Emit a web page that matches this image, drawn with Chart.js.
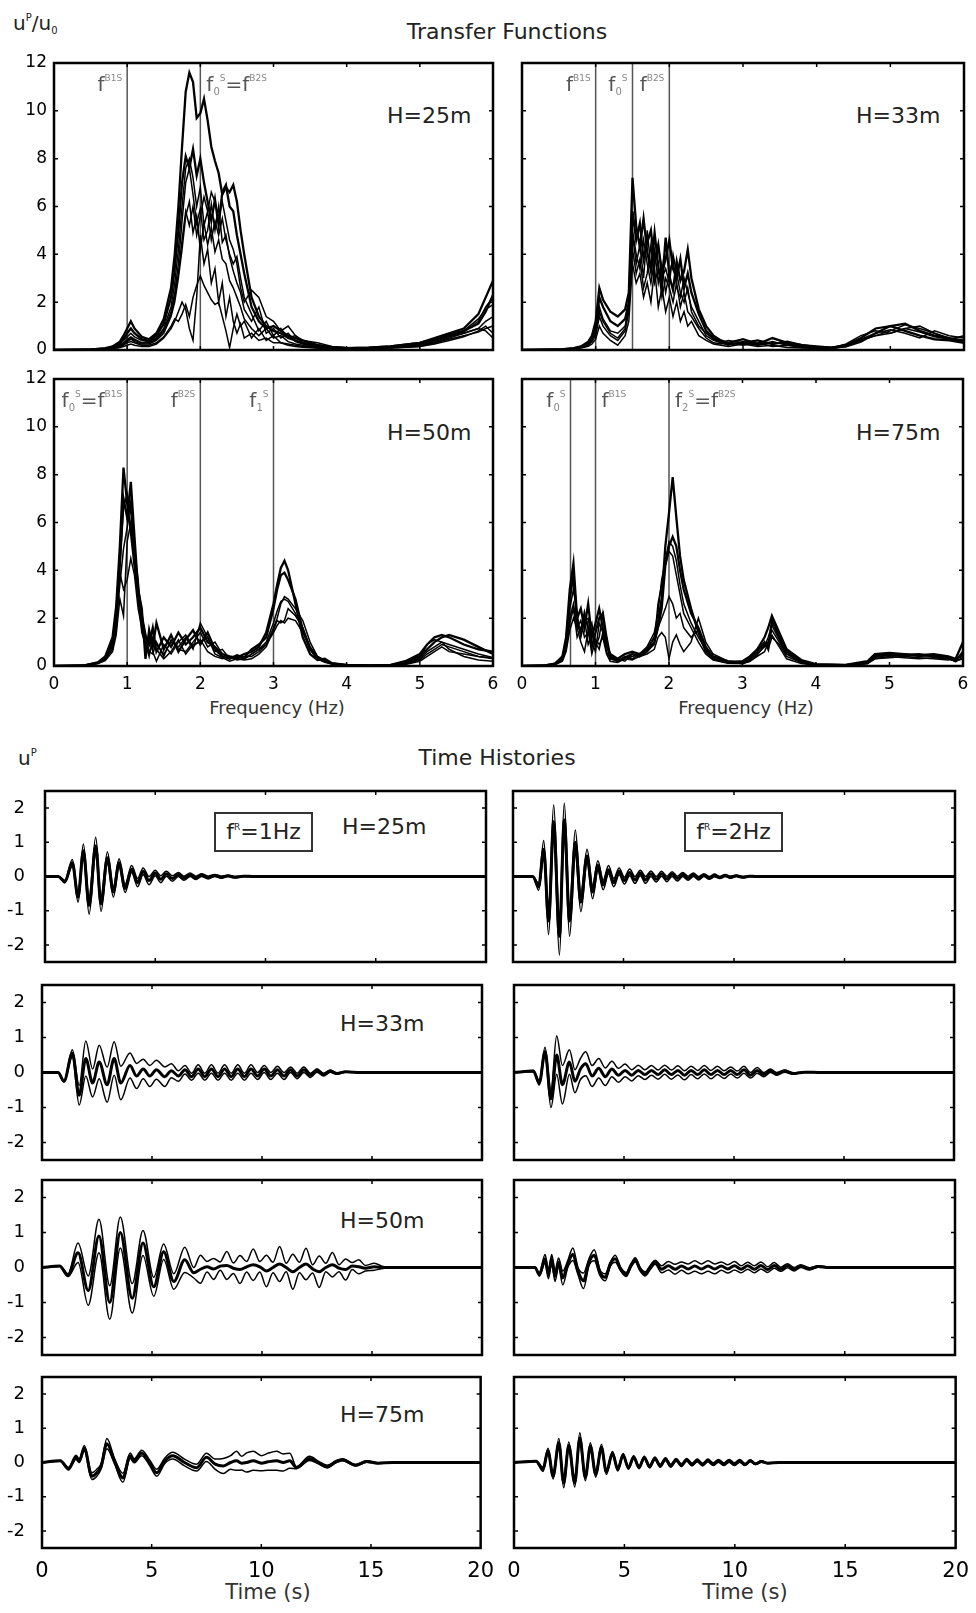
<!DOCTYPE html>
<html lang="en">
<head>
<meta charset="UTF-8">
<title>Transfer Functions and Time Histories</title>
<style>
  body { margin: 0; background: #fff; }
  #page { position: relative; width: 976px; height: 1613px; overflow: hidden; background: #fff; }
  #page canvas { position: absolute; }
  .t { position: absolute; font-family: 'DejaVu Sans', sans-serif; line-height: 1; white-space: nowrap; color: #222; }
  .t sup, .t sub { line-height: 0; }
  .u sup { font-size: 10px; vertical-align: 9px; }
  .u sub { font-size: 10px; vertical-align: -4px; }
  .fl { font-size: 20px; color: #555; }
  .fl sup { font-size: 9px; vertical-align: 10px; color: #888; }
  .fl sub { font-size: 10px; vertical-align: -4px; color: #888; }
  .hl { font-size: 22px; }
  .ax { color: #333; transform: translateX(-50%); }
  .fr { width: 99px; height: 40px; box-sizing: border-box; border: 2px solid #333; font-size: 22px; line-height: 36px; text-align: center; }
  .fr sup { font-size: 9px; vertical-align: 9px; }
</style>
</head>
<body>
<div id="page">
  <div class="t u" style="left:13px;top:13px;font-size:20px">u<sup>P</sup>/u<sub>0</sub></div>
  <div class="t" style="left:507px;top:21px;font-size:22px;transform:translateX(-50%)">Transfer Functions</div>
  <div class="t hl" style="left:387px;top:105px">H=25m</div>
  <div class="t hl" style="left:856px;top:105px">H=33m</div>
  <div class="t hl" style="left:387px;top:422px">H=50m</div>
  <div class="t hl" style="left:856px;top:422px">H=75m</div>
  <div class="t ax" style="left:277px;top:699px;font-size:18px">Frequency (Hz)</div>
  <div class="t ax" style="left:746px;top:699px;font-size:18px">Frequency (Hz)</div>

  <div class="t u" style="left:18px;top:748px;font-size:20px">u<sup>P</sup></div>
  <div class="t" style="left:497px;top:747px;font-size:22px;transform:translateX(-50%)">Time Histories</div>
  <div class="t fr" style="left:214px;top:812px">f<sup>R</sup>=1Hz</div>
  <div class="t fr" style="left:684px;top:812px">f<sup>R</sup>=2Hz</div>
  <div class="t hl" style="left:342px;top:816px">H=25m</div>
  <div class="t hl" style="left:340px;top:1013px">H=33m</div>
  <div class="t hl" style="left:340px;top:1210px">H=50m</div>
  <div class="t hl" style="left:340px;top:1404px">H=75m</div>
  <div class="t ax" style="left:268px;top:1582px;font-size:21px">Time (s)</div>
  <div class="t ax" style="left:745px;top:1582px;font-size:21px">Time (s)</div>
</div>

<script src="https://cdn.jsdelivr.net/npm/chart.js"></script>
<script>
// ---- transfer functions, H=25m ----
const f25 = [0, 0.5, 0.7, 0.8, 0.9, 0.95, 1.0, 1.05, 1.1, 1.2, 1.3, 1.4, 1.5, 1.6, 1.65, 1.7, 1.75, 1.8, 1.85, 1.9, 1.95, 2.0, 2.05, 2.1, 2.15, 2.2, 2.25, 2.3, 2.35, 2.4, 2.45, 2.5, 2.55, 2.6, 2.7, 2.8, 2.9, 3.0, 3.1, 3.2, 3.3, 3.4, 3.6, 3.8, 4.0, 4.3, 4.6, 5.0, 5.2, 5.4, 5.6, 5.8, 5.9, 6.0];
const tf25 = [
  [0, 0.02, 0.08, 0.15, 0.35, 0.6, 0.9, 1.2, 0.9, 0.55, 0.45, 0.7, 1.3, 2.6, 4.0, 6.0, 8.5, 10.8, 11.6, 11.2, 9.7, 9.9, 10.5, 9.6, 8.5, 7.9, 7.4, 6.5, 6.8, 6.6, 6.9, 6.2, 5.0, 4.0, 2.2, 1.4, 1.0, 0.8, 0.7, 0.5, 0.4, 0.3, 0.2, 0.1, 0.08, 0.1, 0.15, 0.3, 0.5, 0.7, 0.9, 1.5, 2.2, 2.9],
  [0, 0.02, 0.06, 0.12, 0.3, 0.45, 0.7, 0.9, 0.7, 0.45, 0.4, 0.6, 1.1, 2.2, 3.4, 5.0, 7.0, 8.1, 7.6, 8.4, 7.3, 8.0, 7.0, 6.2, 5.4, 6.3, 5.2, 6.6, 6.9, 6.0, 5.8, 4.8, 4.0, 3.2, 1.8, 1.2, 0.9, 1.0, 0.8, 0.6, 0.5, 0.4, 0.2, 0.12, 0.08, 0.1, 0.15, 0.3, 0.45, 0.65, 0.8, 1.1, 1.6, 2.3],
  [0, 0.02, 0.05, 0.1, 0.25, 0.4, 0.55, 0.7, 0.55, 0.4, 0.35, 0.5, 0.9, 1.8, 2.8, 4.2, 6.0, 7.6, 8.0, 7.2, 6.0, 6.8, 5.2, 5.8, 4.6, 5.4, 4.8, 5.5, 4.6, 4.0, 3.6, 3.9, 3.0, 2.2, 1.5, 0.8, 1.2, 0.6, 0.9, 0.5, 0.6, 0.3, 0.15, 0.1, 0.06, 0.08, 0.12, 0.25, 0.4, 0.6, 0.75, 1.2, 1.8, 2.2],
  [0, 0.01, 0.05, 0.08, 0.2, 0.3, 0.45, 0.55, 0.45, 0.3, 0.3, 0.45, 0.8, 1.6, 2.4, 3.6, 5.4, 7.0, 7.6, 6.5, 5.3, 5.9, 4.6, 5.0, 6.1, 5.0, 6.0, 4.5, 4.8, 3.9, 3.3, 2.8, 2.4, 1.7, 1.2, 1.8, 0.7, 0.9, 0.5, 0.7, 0.35, 0.25, 0.12, 0.08, 0.05, 0.07, 0.1, 0.2, 0.35, 0.55, 0.7, 0.9, 1.2, 1.4],
  [0, 0.01, 0.04, 0.07, 0.15, 0.25, 0.35, 0.45, 0.35, 0.25, 0.25, 0.4, 0.7, 1.4, 2.0, 3.0, 4.2, 5.6, 6.2, 4.9, 5.6, 4.2, 5.3, 4.4, 5.1, 4.1, 4.6, 3.8, 3.6, 2.9, 2.6, 2.2, 1.8, 1.3, 0.9, 0.6, 0.9, 0.5, 0.6, 0.35, 0.25, 0.2, 0.1, 0.06, 0.05, 0.06, 0.1, 0.2, 0.3, 0.45, 0.6, 0.75, 0.9, 1.0],
  [0, 0.01, 0.03, 0.05, 0.1, 0.15, 0.2, 0.25, 0.2, 0.15, 0.15, 0.25, 0.5, 0.9, 1.2, 1.6, 2.0, 1.7, 0.9, 0.4, 2.2, 4.8, 3.6, 4.2, 2.8, 3.4, 2.0, 2.8, 1.4, 2.2, 1.2, 0.7, 1.1, 0.5, 0.7, 0.4, 0.5, 0.3, 0.3, 0.2, 0.15, 0.12, 0.08, 0.05, 0.04, 0.05, 0.08, 0.15, 0.25, 0.4, 0.55, 0.8, 1.0, 0.7],
  [0, 0.01, 0.03, 0.06, 0.12, 0.2, 0.3, 0.35, 0.3, 0.2, 0.2, 0.3, 0.55, 1.0, 1.3, 1.2, 1.5, 1.9, 1.4, 2.2, 2.7, 3.1, 2.7, 2.4, 2.1, 1.9, 2.0, 1.4, 0.8, 0.1, 0.9, 1.5, 1.0, 1.2, 0.5, 0.9, 0.4, 0.6, 0.3, 0.25, 0.2, 0.15, 0.08, 0.05, 0.04, 0.05, 0.08, 0.15, 0.3, 0.5, 0.7, 0.9, 0.8, 0.5],
  [0, 0.01, 0.04, 0.07, 0.18, 0.28, 0.4, 0.5, 0.4, 0.3, 0.3, 0.45, 0.8, 1.5, 2.2, 3.2, 4.6, 5.8, 5.2, 6.0, 4.8, 5.6, 6.4, 5.8, 6.6, 6.2, 5.5, 6.2, 5.4, 4.6, 4.2, 3.6, 2.6, 2.0, 2.5, 2.2, 1.4, 1.2, 0.8, 1.0, 0.6, 0.4, 0.3, 0.15, 0.1, 0.08, 0.12, 0.25, 0.4, 0.6, 0.8, 1.3, 1.7, 1.9]
];
const marks25 = [
  { at: 1, side: 'l', html: 'f<sup>B1S</sup>' },
  { at: 2, side: 'r', html: 'f<sub>0</sub><sup>S</sup>=f<sup>B2S</sup>' }
];

// ---- transfer functions, H=33m ----
const f33 = [0, 0.5, 0.7, 0.8, 0.9, 0.95, 1.0, 1.05, 1.1, 1.2, 1.3, 1.4, 1.45, 1.5, 1.55, 1.6, 1.65, 1.7, 1.75, 1.8, 1.85, 1.9, 1.95, 2.0, 2.05, 2.1, 2.15, 2.2, 2.25, 2.3, 2.4, 2.5, 2.6, 2.7, 2.8, 3.0, 3.2, 3.4, 3.6, 3.8, 4.0, 4.2, 4.4, 4.6, 4.8, 5.0, 5.2, 5.4, 5.6, 5.8, 6.0];
const tf33 = [
  [0, 0.02, 0.08, 0.15, 0.35, 0.6, 1.2, 2.6, 2.1, 1.6, 1.4, 1.7, 2.4, 7.2, 5.2, 4.3, 5.5, 4.1, 3.3, 4.9, 3.5, 2.7, 4.7, 3.1, 2.5, 3.7, 2.9, 3.3, 4.2, 3.0, 1.7, 1.0, 0.6, 0.4, 0.3, 0.45, 0.25, 0.5, 0.3, 0.2, 0.15, 0.1, 0.15, 0.35, 0.7, 1.0, 1.1, 0.8, 0.6, 0.5, 0.4],
  [0, 0.02, 0.07, 0.13, 0.3, 0.5, 1.0, 2.2, 1.8, 1.2, 1.0, 1.3, 2.0, 5.8, 4.6, 5.3, 3.8, 4.5, 5.0, 3.6, 4.4, 3.2, 3.8, 4.6, 3.4, 3.0, 3.8, 2.6, 3.2, 2.4, 1.5, 0.8, 0.5, 0.35, 0.25, 0.3, 0.4, 0.25, 0.35, 0.2, 0.12, 0.1, 0.2, 0.5, 0.9, 1.0, 0.8, 0.6, 0.45, 0.4, 0.3],
  [0, 0.01, 0.06, 0.12, 0.25, 0.45, 0.8, 1.8, 1.3, 0.8, 0.7, 1.0, 1.8, 4.8, 3.6, 4.4, 3.0, 5.0, 3.4, 4.2, 2.8, 3.6, 2.4, 3.2, 3.8, 2.6, 2.2, 3.0, 2.4, 1.8, 1.2, 0.6, 0.4, 0.3, 0.2, 0.35, 0.2, 0.3, 0.25, 0.15, 0.1, 0.08, 0.25, 0.6, 0.8, 0.7, 0.9, 1.0, 0.7, 0.5, 0.3],
  [0, 0.01, 0.05, 0.1, 0.2, 0.35, 0.6, 1.4, 1.0, 0.6, 0.4, 0.8, 1.6, 4.2, 3.2, 3.8, 2.6, 3.2, 4.4, 2.8, 3.4, 2.2, 3.0, 2.6, 2.0, 2.8, 1.8, 2.4, 1.6, 1.4, 0.9, 0.5, 0.3, 0.25, 0.3, 0.2, 0.3, 0.15, 0.2, 0.1, 0.08, 0.06, 0.2, 0.45, 0.7, 0.85, 0.7, 0.5, 0.8, 0.6, 0.5],
  [0, 0.01, 0.04, 0.08, 0.15, 0.25, 0.45, 1.0, 0.7, 0.4, 0.2, 0.6, 1.2, 3.6, 2.8, 3.2, 2.2, 2.8, 2.0, 3.4, 1.8, 2.6, 1.6, 2.2, 1.4, 2.0, 1.2, 1.6, 1.0, 1.2, 0.6, 0.4, 0.25, 0.2, 0.15, 0.25, 0.15, 0.2, 0.1, 0.08, 0.06, 0.05, 0.15, 0.4, 0.6, 0.7, 0.9, 0.75, 0.55, 0.45, 0.6],
  [0, 0.01, 0.05, 0.1, 0.22, 0.4, 0.7, 1.6, 1.2, 0.7, 0.5, 0.9, 1.9, 5.0, 4.0, 3.4, 4.6, 3.6, 2.8, 3.8, 4.4, 3.0, 3.4, 2.8, 4.0, 3.2, 2.4, 2.0, 2.6, 1.6, 1.0, 0.7, 0.45, 0.3, 0.4, 0.3, 0.2, 0.35, 0.2, 0.15, 0.12, 0.1, 0.18, 0.4, 0.6, 0.8, 1.05, 0.9, 0.7, 0.45, 0.35]
];
const marks33 = [
  { at: 1, side: 'l', html: 'f<sup>B1S</sup>' },
  { at: 1.5, side: 'l', html: 'f<sub>0</sub><sup>S</sup>' },
  { at: 2, side: 'l', html: 'f<sup>B2S</sup>' }
];

// ---- transfer functions, H=50m ----
const f50 = [0, 0.4, 0.6, 0.7, 0.8, 0.85, 0.9, 0.95, 1.0, 1.05, 1.1, 1.15, 1.2, 1.25, 1.3, 1.35, 1.4, 1.5, 1.6, 1.7, 1.8, 1.9, 2.0, 2.1, 2.2, 2.3, 2.4, 2.5, 2.6, 2.7, 2.8, 2.9, 3.0, 3.05, 3.1, 3.15, 3.2, 3.3, 3.4, 3.5, 3.6, 3.7, 3.8, 4.0, 4.3, 4.6, 4.8, 5.0, 5.1, 5.2, 5.3, 5.4, 5.6, 5.8, 6.0];
const tf50 = [
  [0, 0.02, 0.15, 0.4, 1.2, 2.5, 5.0, 8.3, 6.8, 5.6, 4.2, 3.0, 2.0, 1.2, 0.9, 1.6, 0.6, 1.2, 0.8, 1.4, 0.9, 1.2, 1.6, 1.0, 0.8, 0.5, 0.4, 0.35, 0.5, 0.6, 0.8, 1.4, 2.6, 3.4, 4.1, 4.4, 4.0, 2.6, 1.2, 0.5, 0.25, 0.3, 0.12, 0.05, 0.02, 0.05, 0.2, 0.5, 0.9, 1.2, 1.3, 1.2, 0.9, 0.7, 0.6],
  [0, 0.02, 0.14, 0.35, 1.0, 2.2, 4.4, 7.0, 6.2, 7.7, 5.4, 3.2, 2.4, 0.3, 1.5, 0.8, 1.8, 0.7, 1.3, 0.6, 1.1, 1.5, 0.9, 1.4, 0.7, 0.4, 0.3, 0.45, 0.35, 0.7, 0.9, 1.2, 2.4, 3.2, 3.8, 3.9, 3.6, 2.8, 1.5, 0.7, 0.3, 0.2, 0.1, 0.04, 0.02, 0.04, 0.15, 0.4, 0.7, 1.0, 1.2, 1.3, 1.1, 0.8, 0.5],
  [0, 0.02, 0.13, 0.33, 0.9, 2.0, 4.0, 6.6, 7.2, 6.4, 4.8, 3.6, 1.8, 1.0, 0.4, 1.2, 0.9, 0.5, 1.0, 0.8, 1.2, 0.7, 1.8, 1.2, 0.6, 0.7, 0.3, 0.4, 0.3, 0.5, 0.7, 1.0, 1.8, 2.3, 2.7, 2.8, 2.7, 2.2, 1.6, 0.8, 0.4, 0.25, 0.12, 0.04, 0.02, 0.03, 0.1, 0.3, 0.6, 0.8, 1.0, 0.9, 0.7, 0.5, 0.35],
  [0, 0.01, 0.12, 0.3, 0.8, 1.8, 3.4, 4.9, 5.8, 6.9, 5.0, 3.0, 2.2, 1.4, 0.6, 0.5, 1.0, 0.4, 1.1, 0.7, 0.6, 1.0, 1.4, 0.8, 1.0, 0.5, 0.35, 0.3, 0.4, 0.4, 0.6, 0.9, 1.6, 2.0, 2.6, 2.9, 2.8, 2.4, 1.9, 1.0, 0.4, 0.2, 0.1, 0.03, 0.01, 0.02, 0.08, 0.25, 0.5, 0.7, 0.9, 0.8, 0.6, 0.4, 0.3],
  [0, 0.01, 0.1, 0.25, 0.7, 1.5, 3.9, 3.2, 3.6, 4.5, 3.8, 2.4, 1.6, 0.8, 1.2, 0.6, 0.2, 0.9, 0.5, 1.0, 1.3, 0.8, 1.1, 0.6, 0.4, 0.3, 0.4, 0.25, 0.3, 0.5, 0.7, 0.9, 1.4, 1.7, 1.9, 1.8, 2.0, 1.9, 1.4, 0.8, 0.35, 0.2, 0.08, 0.03, 0.01, 0.02, 0.1, 0.35, 0.9, 1.1, 1.0, 0.7, 0.4, 0.25, 0.2],
  [0, 0.01, 0.1, 0.22, 0.6, 1.3, 2.8, 2.1, 5.2, 6.0, 4.4, 2.8, 1.4, 0.9, 0.5, 1.0, 0.7, 0.3, 0.6, 1.1, 0.5, 0.9, 1.0, 1.2, 0.5, 0.35, 0.2, 0.3, 0.25, 0.3, 0.5, 0.8, 1.5, 1.9, 1.8, 1.9, 2.4, 2.1, 1.6, 0.7, 0.3, 0.15, 0.08, 0.02, 0.01, 0.02, 0.06, 0.2, 0.4, 0.6, 0.8, 0.6, 0.5, 0.4, 0.35]
];
const marks50 = [
  { at: 1, side: 'l', html: 'f<sub>0</sub><sup>S</sup>=f<sup>B1S</sup>' },
  { at: 2, side: 'l', html: 'f<sup>B2S</sup>' },
  { at: 3, side: 'l', html: 'f<sub>1</sub><sup>S</sup>' }
];

// ---- transfer functions, H=75m ----
const f75 = [0, 0.3, 0.45, 0.55, 0.6, 0.65, 0.7, 0.75, 0.8, 0.85, 0.9, 0.95, 1.0, 1.05, 1.1, 1.15, 1.2, 1.3, 1.4, 1.5, 1.6, 1.7, 1.8, 1.85, 1.9, 1.95, 2.0, 2.05, 2.1, 2.15, 2.2, 2.3, 2.4, 2.5, 2.6, 2.8, 3.0, 3.1, 3.2, 3.3, 3.35, 3.4, 3.5, 3.6, 3.8, 4.0, 4.4, 4.7, 4.8, 5.0, 5.2, 5.4, 5.6, 5.8, 5.9, 6.0];
const tf75 = [
  [0, 0.02, 0.1, 0.4, 1.2, 3.2, 4.3, 2.0, 2.4, 1.6, 2.6, 1.2, 1.8, 2.4, 1.6, 0.9, 0.5, 0.3, 0.5, 0.6, 0.5, 0.7, 1.2, 1.8, 2.8, 5.0, 6.4, 7.9, 6.2, 4.6, 3.6, 2.4, 1.4, 0.6, 0.3, 0.15, 0.2, 0.4, 0.7, 1.2, 1.6, 2.1, 1.4, 0.7, 0.25, 0.08, 0.05, 0.2, 0.5, 0.55, 0.5, 0.45, 0.5, 0.4, 0.3, 1.0],
  [0, 0.02, 0.1, 0.35, 1.0, 2.8, 3.8, 1.8, 1.4, 2.2, 1.6, 0.8, 1.4, 2.0, 2.2, 1.2, 0.4, 0.2, 0.35, 0.5, 0.4, 0.6, 1.0, 1.6, 2.4, 4.2, 5.0, 5.4, 5.0, 4.0, 3.2, 2.2, 1.6, 0.8, 0.4, 0.2, 0.15, 0.3, 0.6, 1.0, 0.7, 1.9, 1.2, 0.6, 0.2, 0.06, 0.04, 0.15, 0.45, 0.5, 0.45, 0.5, 0.4, 0.35, 0.2, 0.6],
  [0, 0.01, 0.08, 0.3, 0.9, 2.4, 3.2, 2.2, 1.2, 1.9, 2.0, 1.0, 0.6, 1.8, 1.4, 1.0, 0.3, 0.25, 0.3, 0.4, 0.5, 0.8, 1.4, 2.2, 3.6, 4.4, 5.2, 5.0, 4.4, 3.4, 2.6, 1.8, 1.2, 0.7, 0.3, 0.15, 0.1, 0.25, 0.5, 0.8, 1.2, 1.7, 1.1, 0.5, 0.2, 0.05, 0.04, 0.1, 0.35, 0.45, 0.4, 0.35, 0.3, 0.25, 0.3, 0.4],
  [0, 0.01, 0.08, 0.28, 0.8, 2.0, 2.6, 1.6, 1.9, 1.2, 1.4, 1.8, 0.8, 1.2, 2.2, 0.8, 0.4, 0.3, 0.2, 0.5, 0.45, 0.7, 1.0, 2.6, 3.4, 4.2, 4.8, 4.6, 3.8, 3.0, 2.2, 1.6, 1.0, 0.5, 0.25, 0.12, 0.1, 0.3, 0.7, 0.9, 1.0, 1.5, 1.0, 0.5, 0.15, 0.04, 0.03, 0.1, 0.3, 0.35, 0.4, 0.45, 0.4, 0.3, 0.2, 0.3],
  [0, 0.01, 0.06, 0.25, 0.7, 1.8, 2.4, 1.2, 1.6, 2.0, 0.9, 1.3, 1.0, 0.7, 1.4, 0.6, 0.3, 0.2, 0.4, 0.3, 0.5, 0.6, 0.9, 1.6, 2.0, 2.4, 2.9, 2.6, 2.0, 2.2, 1.6, 1.2, 1.5, 0.8, 0.4, 0.15, 0.12, 0.2, 0.45, 0.9, 0.7, 1.2, 0.9, 0.4, 0.15, 0.04, 0.03, 0.12, 0.4, 0.45, 0.5, 0.4, 0.45, 0.35, 0.25, 0.5],
  [0, 0.01, 0.05, 0.2, 0.6, 1.5, 2.0, 1.6, 1.0, 0.6, 1.5, 0.5, 1.1, 0.9, 1.2, 0.5, 0.2, 0.15, 0.3, 0.25, 0.4, 0.5, 0.7, 1.2, 1.4, 1.2, 0.3, 1.0, 1.3, 0.9, 0.6, 1.0, 2.0, 1.0, 0.5, 0.2, 0.1, 0.2, 0.4, 0.6, 1.0, 1.3, 0.8, 0.3, 0.1, 0.03, 0.02, 0.1, 0.3, 0.4, 0.35, 0.3, 0.35, 0.3, 0.2, 0.35]
];
const marks75 = [
  { at: 0.66, side: 'l', html: 'f<sub>0</sub><sup>S</sup>' },
  { at: 1, side: 'r', html: 'f<sup>B1S</sup>' },
  { at: 2, side: 'r', html: 'f<sub>2</sub><sup>S</sup>=f<sup>B2S</sup>' }
];

// ---- time histories: t = extrema times (s), m = mean, s = spread ----
const thTicks = [-2, -1, 0, 1, 2];

const t1_25 = [0, 0.6, 0.9, 1.24, 1.5, 1.74, 2.0, 2.3, 2.54, 2.83, 3.1, 3.36, 3.63, 3.93, 4.2, 4.45, 4.72, 5.0, 5.25, 5.5, 5.78, 6.05, 6.3, 6.58, 6.85, 7.1, 7.4, 7.7, 8.0, 8.3, 8.6, 9.0, 9.5, 10, 11, 12, 20];
const m1_25 = [0, 0, -0.15, 0.4, -0.6, 0.75, -0.85, 0.9, -0.8, 0.55, -0.45, 0.4, -0.35, 0.22, -0.18, 0.15, -0.12, 0.1, -0.08, 0.08, -0.06, 0.06, -0.05, 0.05, -0.04, 0.04, -0.03, 0.03, -0.02, 0.02, -0.02, 0.01, 0, 0, 0, 0, 0];
const s1_25 = [0, 0, 0.04, 0.1, 0.15, 0.2, 0.25, 0.25, 0.22, 0.17, 0.15, 0.12, 0.12, 0.1, 0.12, 0.1, 0.12, 0.08, 0.1, 0.07, 0.08, 0.06, 0.06, 0.05, 0.05, 0.04, 0.04, 0.03, 0.03, 0.02, 0.02, 0.01, 0.01, 0, 0, 0, 0];

const t2_25 = [0, 0.9, 1.16, 1.39, 1.61, 1.84, 2.1, 2.32, 2.56, 2.82, 3.07, 3.35, 3.6, 3.84, 4.08, 4.32, 4.56, 4.8, 5.04, 5.28, 5.52, 5.76, 6.0, 6.24, 6.48, 6.72, 6.96, 7.2, 7.44, 7.68, 7.92, 8.16, 8.4, 8.64, 8.88, 9.12, 9.36, 9.6, 9.84, 10.1, 10.4, 10.7, 11, 11.5, 12, 20];
const m2_25 = [0, 0, -0.3, 0.8, -1.3, 1.6, -1.75, 1.65, -1.3, 1.0, -0.75, 0.6, -0.45, 0.32, -0.25, 0.2, -0.18, 0.15, -0.12, 0.12, -0.1, 0.1, -0.1, 0.08, -0.08, 0.08, -0.07, 0.07, -0.06, 0.06, -0.05, 0.05, -0.05, 0.04, -0.04, 0.03, -0.03, 0.03, -0.02, 0.02, -0.02, 0.01, 0, 0, 0, 0];
const s2_25 = [0, 0, 0.1, 0.25, 0.4, 0.5, 0.55, 0.5, 0.45, 0.36, 0.28, 0.2, 0.2, 0.14, 0.14, 0.12, 0.12, 0.1, 0.1, 0.1, 0.1, 0.08, 0.1, 0.08, 0.08, 0.07, 0.08, 0.07, 0.07, 0.06, 0.06, 0.05, 0.05, 0.04, 0.04, 0.04, 0.03, 0.03, 0.03, 0.02, 0.02, 0.01, 0.01, 0, 0, 0];

const t1_33 = [0, 0.73, 1.0, 1.38, 1.69, 1.99, 2.3, 2.6, 2.96, 3.28, 3.58, 4.0, 4.3, 4.6, 4.9, 5.2, 5.58, 5.88, 6.2, 6.5, 6.8, 7.1, 7.4, 7.7, 8.0, 8.3, 8.6, 8.9, 9.2, 9.5, 9.8, 10.1, 10.4, 10.7, 11.0, 11.3, 11.6, 11.9, 12.2, 12.5, 12.8, 13.1, 13.4, 13.8, 14.5, 20];
const m1_33 = [0, 0, -0.25, 0.55, -0.65, 0.4, -0.3, 0.3, -0.35, 0.4, -0.3, 0.2, -0.1, 0.1, -0.1, 0.08, -0.12, 0.05, -0.1, 0.08, -0.12, 0.1, -0.12, 0.1, -0.12, 0.1, -0.12, 0.1, -0.12, 0.1, -0.1, 0.1, -0.1, 0.08, -0.1, 0.08, -0.1, 0.08, -0.08, 0.06, -0.06, 0.04, -0.03, 0.02, 0, 0];
const s1_33 = [0, 0, 0.02, 0.1, 0.28, 0.5, 0.4, 0.48, 0.5, 0.48, 0.48, 0.36, 0.36, 0.28, 0.3, 0.27, 0.28, 0.2, 0.15, 0.12, 0.1, 0.12, 0.1, 0.12, 0.1, 0.12, 0.1, 0.12, 0.1, 0.12, 0.1, 0.1, 0.1, 0.1, 0.1, 0.08, 0.08, 0.08, 0.06, 0.05, 0.04, 0.03, 0.02, 0.01, 0, 0];

const t2_33 = [0, 0.88, 1.15, 1.41, 1.68, 1.94, 2.2, 2.52, 2.77, 3.02, 3.26, 3.55, 3.85, 4.15, 4.45, 4.75, 5.05, 5.35, 5.65, 5.95, 6.25, 6.55, 6.85, 7.15, 7.45, 7.75, 8.05, 8.35, 8.65, 8.95, 9.25, 9.55, 9.85, 10.15, 10.45, 10.75, 11.05, 11.35, 11.65, 11.95, 12.3, 12.7, 13.2, 14, 20];
const m2_33 = [0, 0.04, -0.3, 0.6, -0.75, 0.5, -0.35, 0.3, -0.25, 0.1, 0.25, -0.1, 0.12, -0.12, 0.1, -0.08, 0.06, -0.08, 0.06, -0.06, 0.06, -0.06, 0.08, -0.06, 0.06, -0.08, 0.06, -0.06, 0.08, -0.06, 0.06, -0.06, 0.06, -0.06, 0.08, -0.08, 0.06, -0.06, 0.05, -0.04, 0.04, -0.03, 0.01, 0, 0];
const s2_33 = [0, 0.02, 0.06, 0.12, 0.25, 0.55, 0.55, 0.35, 0.33, 0.3, 0.34, 0.3, 0.28, 0.25, 0.22, 0.2, 0.18, 0.16, 0.15, 0.14, 0.14, 0.13, 0.13, 0.13, 0.13, 0.13, 0.12, 0.12, 0.12, 0.12, 0.12, 0.11, 0.1, 0.1, 0.1, 0.08, 0.08, 0.06, 0.05, 0.04, 0.03, 0.02, 0.01, 0, 0];

const t1_50 = [0, 0.8, 1.18, 1.64, 2.1, 2.59, 3.08, 3.56, 4.1, 4.59, 5.08, 5.53, 5.99, 6.49, 6.9, 7.2, 7.5, 7.8, 8.1, 8.4, 8.7, 9.0, 9.3, 9.6, 9.9, 10.2, 10.5, 10.8, 11.1, 11.4, 11.7, 12.0, 12.3, 12.6, 12.9, 13.2, 13.5, 13.8, 14.1, 14.4, 14.7, 15.1, 15.5, 16, 20];
const m1_50 = [0, 0.04, -0.22, 0.42, -0.66, 0.9, -1.0, 1.0, -0.88, 0.7, -0.55, 0.45, -0.4, 0.22, -0.15, -0.05, 0.02, -0.04, 0.04, 0.06, -0.02, -0.06, 0.02, 0.08, 0.02, -0.1, 0.0, 0.1, 0.0, -0.12, 0.0, 0.1, -0.04, -0.12, 0.0, 0.08, -0.02, -0.06, 0.04, 0.02, -0.02, 0.02, 0, 0, 0];
const s1_50 = [0, 0.01, 0.04, 0.28, 0.42, 0.48, 0.48, 0.44, 0.42, 0.36, 0.27, 0.22, 0.22, 0.36, 0.15, 0.4, 0.15, 0.3, 0.12, 0.4, 0.15, 0.4, 0.15, 0.45, 0.15, 0.45, 0.15, 0.5, 0.12, 0.5, 0.15, 0.45, 0.12, 0.45, 0.12, 0.35, 0.1, 0.3, 0.1, 0.2, 0.08, 0.1, 0.03, 0, 0];

const t2_50 = [0, 0.95, 1.15, 1.41, 1.56, 1.71, 1.86, 2.02, 2.21, 2.44, 2.67, 2.9, 3.15, 3.4, 3.64, 3.9, 4.14, 4.37, 4.59, 4.84, 5.09, 5.3, 5.5, 5.72, 5.95, 6.2, 6.4, 6.7, 7.0, 7.3, 7.6, 7.9, 8.2, 8.5, 8.8, 9.1, 9.4, 9.7, 10.0, 10.3, 10.6, 10.9, 11.2, 11.5, 11.8, 12.1, 12.4, 12.7, 13.0, 13.4, 13.8, 14.3, 15, 20];
const m2_50 = [0, 0, -0.2, 0.25, -0.2, 0.25, -0.25, 0.15, -0.3, 0.1, 0.38, -0.1, -0.38, 0.15, 0.35, -0.15, -0.28, 0.1, 0.25, -0.05, -0.2, 0.05, 0.22, -0.05, -0.18, 0.02, 0.15, -0.05, 0.05, -0.05, 0.04, -0.04, 0.04, -0.04, 0.04, -0.04, 0.04, -0.04, 0.05, -0.05, 0.05, -0.05, 0.06, -0.06, 0.06, -0.05, 0.05, -0.05, 0.04, -0.04, 0.03, 0, 0, 0];
const s2_50 = [0, 0, 0.05, 0.12, 0.12, 0.12, 0.15, 0.12, 0.2, 0.1, 0.18, 0.1, 0.22, 0.1, 0.16, 0.08, 0.1, 0.06, 0.1, 0.05, 0.06, 0.05, 0.06, 0.05, 0.06, 0.06, 0.06, 0.1, 0.12, 0.14, 0.12, 0.14, 0.15, 0.14, 0.15, 0.14, 0.12, 0.12, 0.12, 0.1, 0.1, 0.1, 0.1, 0.08, 0.08, 0.06, 0.06, 0.05, 0.04, 0.03, 0.02, 0.01, 0, 0];

const t1_75 = [0, 0.83, 1.21, 1.55, 1.7, 1.93, 2.27, 2.5, 2.7, 2.96, 3.3, 3.69, 4.02, 4.2, 4.55, 4.9, 5.23, 5.6, 5.96, 6.5, 7.05, 7.5, 7.9, 8.27, 8.6, 8.87, 9.1, 9.33, 9.63, 10.0, 10.3, 10.7, 11.0, 11.3, 11.6, 12.2, 12.6, 13.0, 13.4, 13.7, 14.3, 14.8, 15.3, 16, 20];
const m1_75 = [0, 0.05, -0.18, 0.15, 0.05, 0.42, -0.4, -0.3, -0.1, 0.55, 0.05, -0.45, 0.2, 0.05, 0.28, 0.0, -0.3, 0.05, 0.2, 0.0, -0.15, 0.15, -0.05, -0.1, 0.0, 0.05, -0.02, 0.0, 0.05, -0.02, 0.02, 0.05, 0.0, 0.05, -0.15, 0.12, 0.0, -0.12, 0.02, 0.08, -0.08, 0.03, -0.02, 0, 0];
const s1_75 = [0, 0.01, 0.04, 0.06, 0.05, 0.08, 0.1, 0.1, 0.08, 0.15, 0.08, 0.13, 0.08, 0.06, 0.08, 0.08, 0.1, 0.08, 0.1, 0.1, 0.1, 0.12, 0.15, 0.22, 0.2, 0.28, 0.2, 0.28, 0.28, 0.22, 0.25, 0.28, 0.25, 0.22, 0.03, 0.06, 0.04, 0.04, 0.03, 0.03, 0.02, 0.02, 0.01, 0, 0];

const t2_75 = [0, 1.0, 1.31, 1.54, 1.77, 2.03, 2.25, 2.48, 2.75, 2.98, 3.23, 3.46, 3.7, 3.96, 4.18, 4.46, 4.7, 4.94, 5.18, 5.42, 5.66, 5.9, 6.14, 6.38, 6.62, 6.86, 7.1, 7.34, 7.58, 7.82, 8.06, 8.3, 8.54, 8.78, 9.02, 9.26, 9.5, 9.74, 9.98, 10.22, 10.46, 10.7, 10.94, 11.2, 11.5, 12, 20];
const m2_75 = [0, 0.04, -0.2, 0.34, -0.4, 0.58, -0.6, 0.5, -0.6, 0.72, -0.44, 0.48, -0.35, 0.44, -0.28, 0.27, -0.2, 0.22, -0.16, 0.16, -0.14, 0.14, -0.12, 0.12, -0.1, 0.1, -0.1, 0.08, -0.08, 0.08, -0.06, 0.06, -0.06, 0.06, -0.05, 0.05, -0.05, 0.05, -0.05, 0.05, -0.06, 0.05, -0.04, 0.03, -0.02, 0, 0];
const s2_75 = [0, 0.01, 0.06, 0.08, 0.08, 0.12, 0.14, 0.1, 0.12, 0.15, 0.09, 0.1, 0.08, 0.09, 0.07, 0.05, 0.05, 0.04, 0.04, 0.04, 0.04, 0.04, 0.04, 0.04, 0.04, 0.04, 0.04, 0.04, 0.04, 0.04, 0.04, 0.04, 0.04, 0.04, 0.04, 0.04, 0.04, 0.04, 0.04, 0.04, 0.03, 0.03, 0.02, 0.02, 0.01, 0, 0];

// ---- drawing ----
Chart.defaults.font.family = "'DejaVu Sans', sans-serif";
Chart.defaults.color = '#000';
const page = document.getElementById('page');

// closed frame with inward tick marks on all four sides
const frameTicks = {
  id: 'frameTicks',
  afterDatasetsDraw(chart) {
    const { ctx, chartArea: a, scales: { x, y } } = chart;
    const tl = 4;
    ctx.save();
    ctx.strokeStyle = '#000';
    ctx.lineWidth = 1.5;
    ctx.beginPath();
    x.ticks.forEach(tk => {
      if (tk.value <= x.min || tk.value >= x.max) return;
      const px = x.getPixelForValue(tk.value);
      ctx.moveTo(px, a.top); ctx.lineTo(px, a.top + tl);
      ctx.moveTo(px, a.bottom); ctx.lineTo(px, a.bottom - tl);
    });
    y.ticks.forEach(tk => {
      if (tk.value <= y.min || tk.value >= y.max) return;
      const py = y.getPixelForValue(tk.value);
      ctx.moveTo(a.left, py); ctx.lineTo(a.left + tl, py);
      ctx.moveTo(a.right, py); ctx.lineTo(a.right - tl, py);
    });
    ctx.stroke();
    ctx.lineWidth = 2.5;
    ctx.strokeRect(a.left, a.top, a.right - a.left, a.bottom - a.top);
    ctx.restore();
  }
};

function makeChart(box, datasets, o) {
  const [l, t, r, b] = box;
  // generous margins so tick label overflow never shrinks the plot area
  const YW = 50, PT = 36, PR = 24, XH = o.xLabels ? 48 : 36;
  const W = r - l + YW + PR, H = b - t + PT + XH;
  const cv = document.createElement('canvas');
  cv.width = W; cv.height = H;
  cv.style.left = (l - YW) + 'px';
  cv.style.top = (t - PT) + 'px';
  cv.style.width = W + 'px';
  cv.style.height = H + 'px';
  page.appendChild(cv);
  const chart = new Chart(cv, {
    type: 'line',
    data: { datasets },
    options: {
      responsive: false,
      animation: false,
      devicePixelRatio: 1,
      layout: { padding: { top: PT, right: PR, bottom: 0, left: 0 } },
      plugins: { legend: { display: false }, tooltip: { enabled: false } },
      elements: { point: { radius: 0 } },
      scales: {
        x: {
          type: 'linear', min: o.x[0], max: o.x[1],
          grid: { display: false, drawTicks: false },
          border: { display: false },
          ticks: { display: o.xLabels, stepSize: o.x[2], autoSkip: false, maxRotation: 0, padding: o.xPad, font: { size: o.xFont } },
          afterFit: s => { s.height = XH; }
        },
        y: {
          type: 'linear', min: o.y[0], max: o.y[1],
          grid: { display: false, drawTicks: false },
          border: { display: false },
          ticks: { display: o.yLabels, stepSize: o.y[2], padding: o.yPad, font: { size: o.yFont } },
          afterBuildTicks: o.yTicks ? (s => { s.ticks = o.yTicks.map(v => ({ value: v })); }) : undefined,
          afterFit: s => { s.width = YW; }
        }
      }
    },
    plugins: [frameTicks]
  });
  chart.$x0 = l - YW;
  return chart;
}

function tfPanel(box, freq, curves, marks, xLabels, yLabels) {
  const ds = curves.map((c, i) => ({
    data: freq.map((f, k) => ({ x: f, y: c[k] })),
    borderColor: '#000',
    borderWidth: i < 2 ? 2.3 : 1.5,
    tension: 0
  }));
  marks.forEach(mk => ds.push({
    data: [{ x: mk.at, y: 0 }, { x: mk.at, y: 12 }],
    borderColor: '#555',
    borderWidth: 1.5
  }));
  const ch = makeChart(box, ds, { x: [0, 6, 1], y: [0, 12, 2], xLabels, yLabels, xPad: 8, yPad: 7, xFont: 17, yFont: 17 });
  marks.forEach(mk => {
    const px = ch.$x0 + ch.scales.x.getPixelForValue(mk.at);
    const el = document.createElement('div');
    el.className = 't fl';
    el.innerHTML = mk.html;
    el.style.top = (box[1] + 11) + 'px';
    if (mk.side === 'l') {
      el.style.left = (px - 5) + 'px';
      el.style.transform = 'translateX(-100%)';
    } else {
      el.style.left = (px + 6) + 'px';
    }
    page.appendChild(el);
  });
}

function thPanel(box, t, m, s, xLabels, yLabels) {
  const hi = m.map((v, k) => v + s[k]);
  const lo = m.map((v, k) => v - s[k]);
  const line = (arr, w) => ({
    data: t.map((tt, k) => ({ x: tt, y: arr[k] })),
    borderColor: '#000',
    borderWidth: w,
    cubicInterpolationMode: 'monotone'
  });
  makeChart(box, [line(m, 3), line(hi, 1.5), line(lo, 1.5)],
    { x: [0, 20, 5], y: [-2.5, 2.5, 1], yTicks: thTicks, xLabels, yLabels, xPad: 11, yPad: box[0] - 25, xFont: 21, yFont: 18 });
}

tfPanel([54, 63, 493, 350], f25, tf25, marks25, false, true);
tfPanel([522, 63, 964, 350], f33, tf33, marks33, false, false);
tfPanel([54, 379, 493, 666], f50, tf50, marks50, true, true);
tfPanel([522, 379, 963, 666], f75, tf75, marks75, true, false);

thPanel([45, 791, 486, 962], t1_25, m1_25, s1_25, false, true);
thPanel([513, 791, 955, 962], t2_25, m2_25, s2_25, false, false);
thPanel([42, 985, 482, 1160], t1_33, m1_33, s1_33, false, true);
thPanel([514, 985, 954, 1160], t2_33, m2_33, s2_33, false, false);
thPanel([42, 1180, 482, 1355], t1_50, m1_50, s1_50, false, true);
thPanel([514, 1180, 955, 1355], t2_50, m2_50, s2_50, false, false);
thPanel([42, 1377, 481, 1548], t1_75, m1_75, s1_75, true, true);
thPanel([514, 1377, 956, 1548], t2_75, m2_75, s2_75, true, false);
</script>
</body>
</html>
